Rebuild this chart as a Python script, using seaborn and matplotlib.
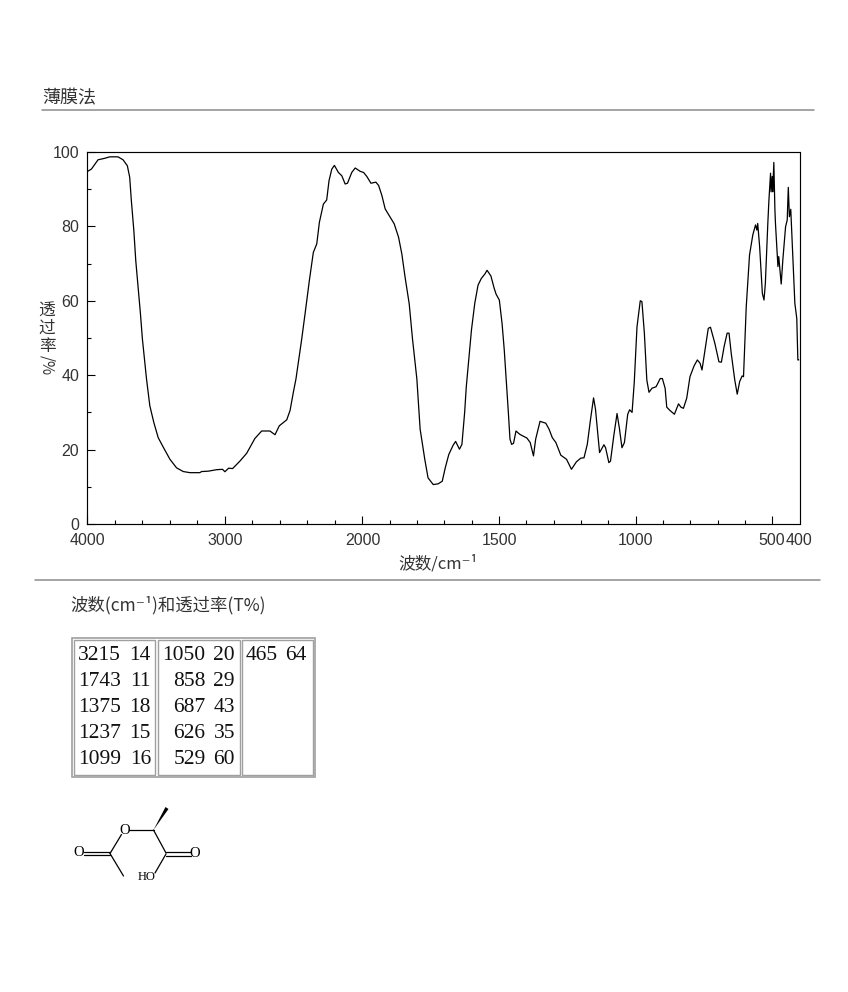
import numpy as np
import pandas as pd
import matplotlib
matplotlib.use('Agg')
import matplotlib.pyplot as plt
from matplotlib.patches import Polygon, Rectangle
import seaborn as sns

# spectrum
wavenumber = [
    4000, 3968, 3920, 3872, 3835, 3775, 3738, 3707, 3690, 3678, 3660, 3646, 3627, 3612, 3598,
    3568, 3544, 3515, 3483, 3447, 3398, 3350, 3301, 3253, 3181, 3168, 3120, 3059, 3016, 2999,
    2972, 2943, 2890, 2841, 2781, 2732, 2672, 2635, 2604, 2550, 2526, 2502, 2483, 2441, 2417,
    2386, 2357, 2332, 2313, 2284, 2260, 2243, 2223, 2204, 2175, 2150, 2126, 2109, 2078, 2053,
    2017, 1996, 1984, 1969, 1951, 1941, 1929, 1917, 1899, 1884, 1868, 1856, 1844, 1829, 1817,
    1801, 1789, 1772, 1760, 1741, 1723, 1708, 1697, 1684, 1668, 1659, 1645, 1636, 1626, 1620,
    1601, 1589, 1577, 1565, 1552, 1544, 1530, 1518, 1511, 1499, 1489, 1481, 1474, 1466, 1460,
    1454, 1447, 1438, 1424, 1398, 1386, 1374, 1366, 1350, 1329, 1317, 1305, 1292, 1274, 1253,
    1235, 1217, 1201, 1189, 1177, 1165, 1154, 1147, 1132, 1116, 1110, 1098, 1092, 1080, 1068,
    1059, 1050, 1041, 1029, 1022, 1013, 1005, 995, 983, 977, 968, 959, 951, 940, 925,
    910, 902, 892, 886, 874, 858, 843, 834, 825, 813, 801, 786, 774, 764, 757,
    746, 734, 726, 710, 695, 686, 676, 665, 658, 650, 637, 628, 619, 610, 605,
    595, 583, 571, 561, 556, 553, 546, 536, 530, 525, 516, 512, 506, 504, 500,
    498, 494, 490, 488, 479, 476, 467, 461, 451, 445, 441, 437, 432, 425, 417,
    410, 406, 403,
]
transmittance = [
    94.7, 95.4, 97.9, 98.3, 98.7, 98.7, 97.9, 96.3, 93.2, 86.9, 78.9, 70.8, 62.8, 56.5, 49.8,
    39.0, 31.8, 27.3, 23.2, 20.7, 17.4, 15.1, 14.1, 13.8, 13.8, 14.1, 14.2, 14.6, 14.7, 14.05,
    15.0, 14.9, 16.9, 19.0, 23.0, 25.0, 25.0, 24.0, 26.4, 28.0, 30.5, 35.4, 39.0, 49.8, 56.5,
    65.4, 73.0, 75.3, 81.1, 86.0, 87.1, 92.3, 95.4, 96.4, 94.5, 93.6, 91.4, 91.6, 94.5, 95.7,
    94.8, 94.5, 93.4, 91.6, 91.9, 91.0, 88.3, 84.7, 82.5, 80.7, 77.1, 72.6, 66.3, 59.2, 49.8,
    39.0, 25.5, 17.4, 12.4, 10.6, 10.8, 11.5, 15.1, 18.7, 21.2, 22.2, 20.1, 21.4, 30.0, 36.9,
    52.2, 59.3, 64.2, 66.0, 67.2, 68.2, 66.7, 63.4, 61.8, 60.2, 53.9, 46.8, 39.0, 30.0, 22.8,
    21.4, 21.7, 25.0, 24.1, 23.1, 21.9, 18.3, 22.8, 27.6, 27.1, 25.5, 23.2, 21.9, 18.5, 17.4,
    14.7, 16.7, 17.7, 17.8, 21.4, 28.2, 33.9, 30.9, 19.2, 21.3, 20.5, 16.5, 16.9, 23.7, 29.7,
    25.5, 20.5, 21.9, 29.5, 30.7, 30.0, 38.1, 53.0, 60.0, 59.8, 51.3, 38.7, 35.4, 36.5, 36.9,
    39.1, 39.1, 36.5, 31.4, 30.5, 29.5, 32.3, 31.4, 31.1, 33.8, 39.6, 42.5, 44.1, 43.2, 41.4,
    46.8, 52.6, 52.9, 48.6, 43.6, 43.5, 47.7, 51.3, 51.3, 45.9, 38.7, 34.9, 38.3, 39.8, 39.6,
    58.4, 72.3, 77.7, 80.4, 79.0, 80.8, 74.6, 62.0, 60.2, 64.7, 80.8, 87.0, 94.3, 89.3, 93.4,
    89.3, 97.2, 84.4, 80.8, 69.2, 71.9, 64.5, 71.0, 79.9, 81.7, 90.5, 82.6, 84.6, 72.8, 59.3,
    55.3, 44.1, 44.1,
]

peak_table = [
    [("3215", "14"), ("1743", "11"), ("1375", "18"), ("1237", "15"), ("1099", "16")],
    [("1050", "20"), ("858", "29"), ("687", "43"), ("626", "35"), ("529", "60")],
    [("465", "64")],
]

x_major = [4000, 3000, 2000, 1500, 1000, 500, 400]
x_major_labels = ['4000', '3000', '2000', '1500', '1000', '500', '400']
x_minor = [3800, 3600, 3400, 3200, 2800, 2600, 2400, 2200, 1900, 1800, 1700, 1600,
           1400, 1300, 1200, 1100, 900, 800, 700, 600]
y_major = [0, 20, 40, 60, 80, 100]
y_minor = [10, 30, 50, 70, 90]

CJK = ['Noto Sans CJK SC', 'DejaVu Sans']
GREY_TXT = '#333333'
W, H = 848, 992

sns.set_theme(style='ticks')
plt.rcParams['font.family'] = CJK

fig = plt.figure(figsize=(W / 100, H / 100), dpi=100, facecolor='white')

# full-page layer in pixel units for everything around the chart
page = fig.add_axes([0, 0, 1, 1])
page.set_xlim(0, W)
page.set_ylim(H, 0)
page.axis('off')

# spectrum axes
ax = fig.add_axes([87 / W, 1 - 524 / H, (799.5 - 87) / W, (524 - 152) / H])
df = pd.DataFrame({'wavenumber': wavenumber, 'T': transmittance})


# the x axis changes scale at 2000
def fwd(v):
    return np.interp(v, [400, 2000, 4000], [0, 437, 712.5])


def inv(p):
    return np.interp(p, [0, 437, 712.5], [400, 2000, 4000])


ax.set_xscale('function', functions=(fwd, inv))
sns.lineplot(data=df, x='wavenumber', y='T', estimator=None, sort=False,
             color='black', lw=0.9, ax=ax)
ax.set_xlim(4000, 400)
ax.set_ylim(0, 100)
ax.patch.set_alpha(0)
for s in ax.spines.values():
    s.set_visible(True)
    s.set_color('black')
    s.set_linewidth(0.85)

ax.set_xticks(x_major, x_major_labels)
ax.set_xticks(x_minor, minor=True)
ax.set_yticks(y_major)
ax.set_yticks(y_minor, minor=True)
ax.tick_params(axis='both', which='major', direction='in', length=6, width=0.8, color='black')
ax.tick_params(axis='both', which='minor', direction='in', length=3, width=0.8, color='black')
ax.tick_params(axis='x', which='major', pad=6.5)
ax.tick_params(axis='y', which='major', pad=5.5)
for lab in ax.get_xticklabels() + ax.get_yticklabels():
    lab.set_family('Liberation Sans')
    lab.set_fontsize(11.5)
    lab.set_color(GREY_TXT)
# no tick mark at 400, only the label
ax.xaxis.get_major_ticks()[-1].tick1line.set_visible(False)
ax.set_xlabel('')
ax.set_ylabel('')

# labels
page.text(438, 564, '波数/cm⁻¹', fontsize=12, color=GREY_TXT, ha='center', va='center')
for ch, cy in zip('透过率', [311, 328, 346]):
    page.text(47, cy, ch, fontsize=12, color=GREY_TXT, ha='center', va='center')
page.text(47, 365, '/%', fontsize=11, color=GREY_TXT, ha='center', va='center', rotation=270)

# header text and rules
page.text(42, 98, '薄膜法', fontsize=13, color=GREY_TXT, ha='left', va='center')
page.plot([42, 814], [109.5, 109.5], color='#8c8c8c', lw=1.1)
page.plot([35, 820], [579.5, 579.5], color='#8c8c8c', lw=1.1)
page.text(70, 605, '波数(cm⁻¹)和透过率(T%)', fontsize=12.5, color=GREY_TXT, ha='left', va='center')

# peak table
page.add_patch(Rectangle((71.5, 638), 243.5, 139, fc='none', ec='#a0a0a0', lw=1.2))
cell_x = [(73.5, 155), (157.5, 239.5), (241.5, 313)]
for x0, x1 in cell_x:
    page.add_patch(Rectangle((x0, 640), x1 - x0, 134.5, fc='none', ec='#a0a0a0', lw=1.0))
row_y = [656, 682, 708, 734, 760]
col_right = [(121, 151), (205.5, 235), (278, 307)]
for col, (rx1, rx2) in zip(peak_table, col_right):
    for (wn_txt, t_txt), ry in zip(col, row_y):
        page.text(rx1, ry, wn_txt, family='Liberation Serif', fontsize=15.5, color='#111111',
                  ha='right', va='center')
        page.text(rx2, ry, t_txt, family='Liberation Serif', fontsize=15.5, color='#111111',
                  ha='right', va='center')

# structure
bond = dict(color='black', lw=0.9, solid_capstyle='round')
page.plot([129, 153.5], [830, 830], **bond)
page.plot([153.5, 166], [830, 853], **bond)
page.plot([121.5, 110], [834.5, 853.5], **bond)
page.plot([110, 123.5], [853.5, 876], **bond)
page.plot([110, 84], [851.5, 851.5], **bond)
page.plot([110, 84], [855, 855], **bond)
page.plot([166, 190.5], [852, 852], **bond)
page.plot([166, 190.5], [855.5, 855.5], **bond)
page.plot([166, 155], [854, 873], **bond)
page.add_patch(Polygon([(153.5, 830), (165.5, 807), (168.5, 809)], fc='black', ec='none'))
for (tx, ty, t, fs) in [(124.5, 830, 'O', 10.5), (79, 852.5, 'O', 10.5), (195, 853.5, 'O', 10.5),
                        (147, 876.5, 'HO', 9)]:
    page.text(tx, ty, t, family='Liberation Serif', fontsize=fs, color='black',
              ha='center', va='center')

fig.savefig('out.png', dpi=100, facecolor='white')
